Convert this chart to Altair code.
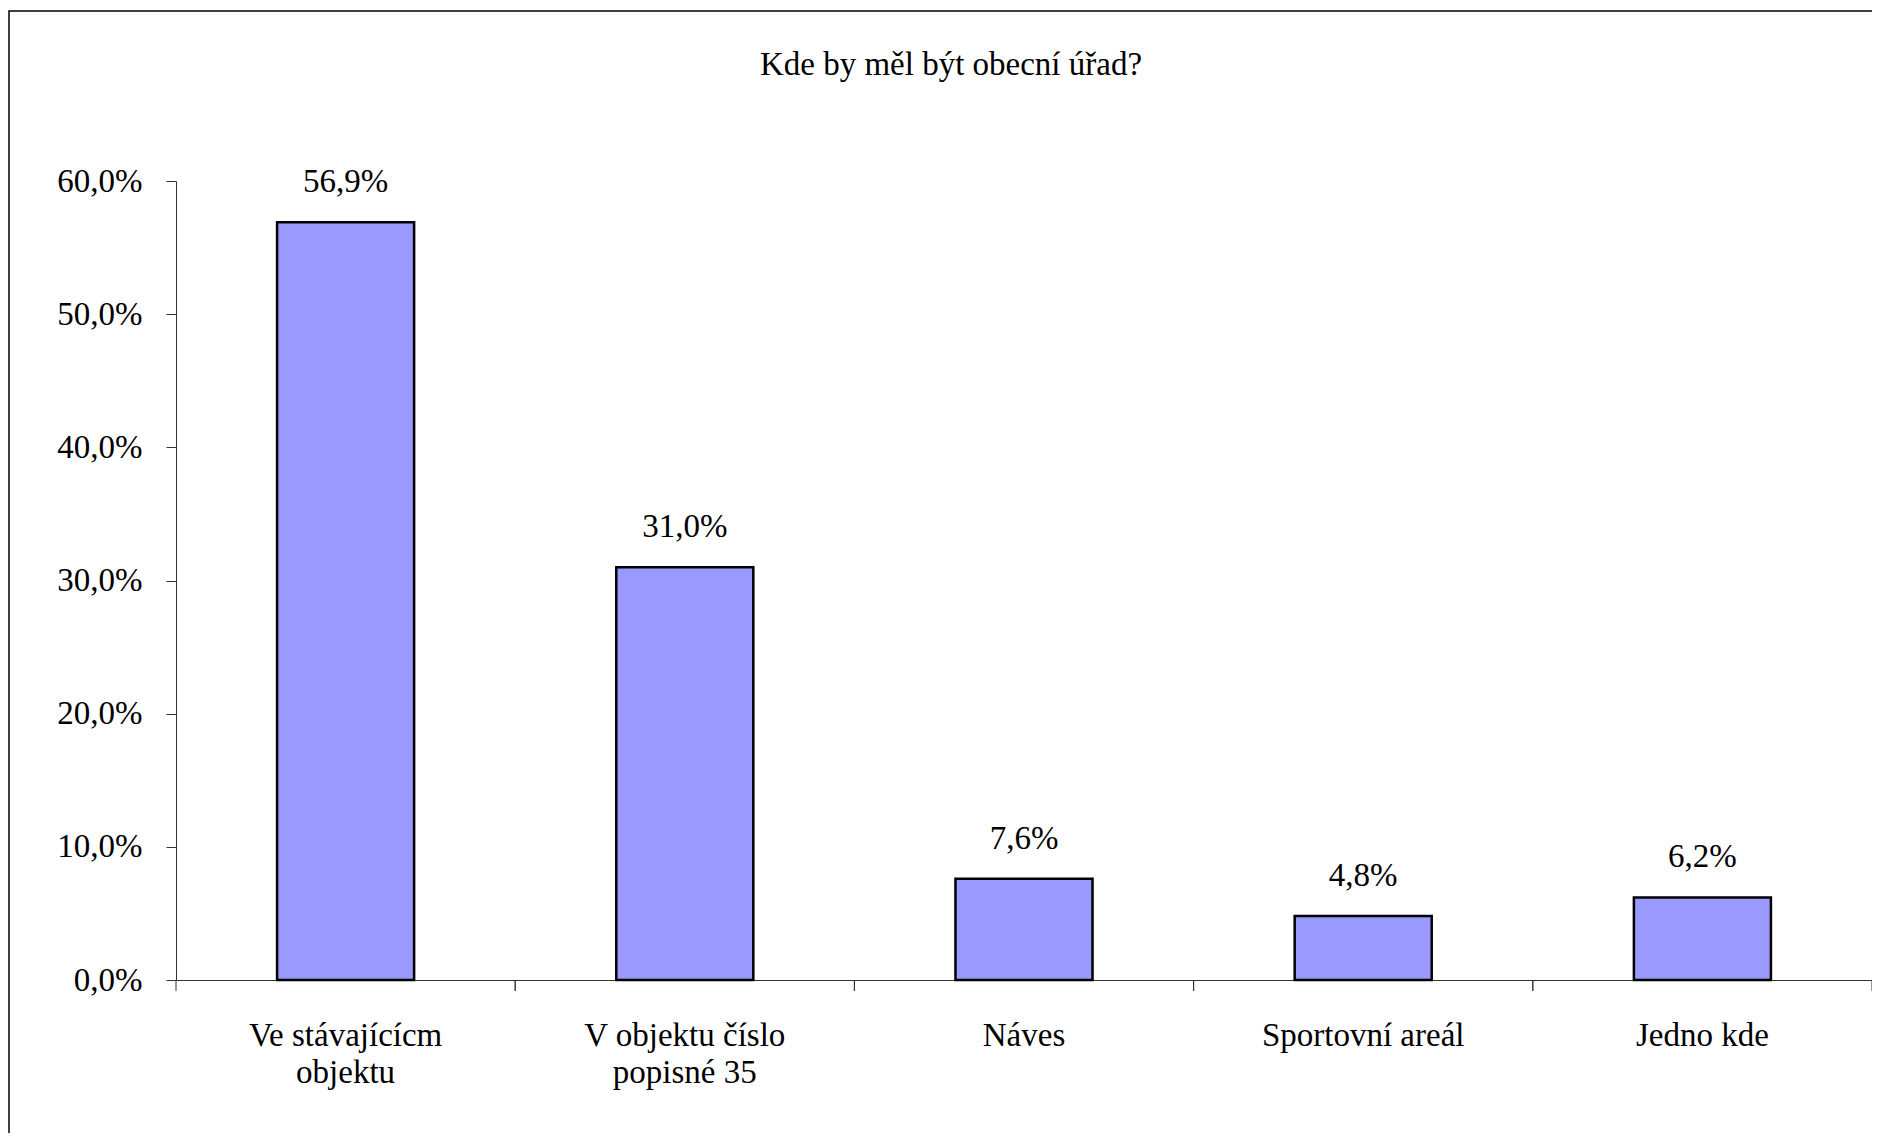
import altair as alt
import pandas as pd

categories = ["Ve stávajícícm\nobjektu", "V objektu číslo\npopisné 35", "Náves", "Sportovní areál", "Jedno kde"]
values = [56.9, 31.0, 7.6, 4.8, 6.2]
y_ticks = [0, 10, 20, 30, 40, 50, 60]
title_text = "Kde by měl být obecní úřad?"

df = pd.DataFrame({"cat": categories, "val": values})

W, H = 1696, 799
FONT = "Liberation Serif"

xscale = alt.Scale(domain=categories, paddingInner=0, paddingOuter=0)
yscale = alt.Scale(domain=[0, 60], nice=False)

base = alt.Chart(df)

bars = base.mark_bar(
    width=alt.RelativeBandSize(0.404), fill="#9999FF", stroke="black", strokeWidth=2.5
).encode(
    x=alt.X("cat:N", scale=xscale, sort=None, title=None,
            axis=alt.Axis(labelAngle=0, ticks=False, tickSize=0, labelPadding=65,
                          labelBaseline="alphabetic", labelLineHeight=37, labelLimit=0,
                          labelExpr="split(datum.value, '\\n')", grid=False,
                          labelFont=FONT, labelFontSize=33, labelColor="black",
                          domainColor="#333", domainWidth=1)),
    y=alt.Y("val:Q", scale=yscale, title=None,
            axis=alt.Axis(values=y_ticks, grid=False, tickSize=10, labelPadding=24,
                          labelExpr="replace(format(datum.value, '.1f'), '.', ',') + '%'",
                          labelFont=FONT, labelFontSize=33, labelColor="black",
                          domainColor="#333", tickColor="#333", domainWidth=1)),
)

labels = base.mark_text(font=FONT, fontSize=33, baseline="alphabetic", dy=-30, color="black").encode(
    x=alt.X("cat:N", scale=xscale, sort=None, title=None),
    y=alt.Y("val:Q", scale=yscale, title=None),
    text=alt.Text("lbl:N"),
).transform_calculate(lbl="replace(format(datum.val, '.1f'), '.', ',') + '%'")

ticks0 = base.mark_rule(color="#333", strokeWidth=1).encode(
    x=alt.X("cat:N", scale=xscale, sort=None, bandPosition=0, title=None),
    y=alt.value(H), y2=alt.value(H + 11),
)
ticks1 = base.mark_rule(color="#333", strokeWidth=1).encode(
    x=alt.X("cat:N", scale=xscale, sort=None, bandPosition=1, title=None),
    y=alt.value(H), y2=alt.value(H + 11),
)

border = alt.Chart(alt.Data(values=[{"a": 1}])).mark_rect(
    fillOpacity=0, stroke="black", strokeWidth=1.5
).encode(
    x=alt.value(-167), x2=alt.value(W + 40), y=alt.value(-170), y2=alt.value(H + 300)
)

title = alt.Chart(alt.Data(values=[{"t": title_text}])).mark_text(
    font=FONT, fontSize=33, baseline="alphabetic", align="center", color="black"
).encode(
    text=alt.Text("t:N"), x=alt.value(W / 2 - 73), y=alt.value(-106)
)

chart = alt.layer(border, bars, labels, ticks0, ticks1, title).properties(
    width=W, height=H,
    background="white",
    autosize=alt.AutoSizeParams(type="none"),
    padding={"left": 168, "top": 173, "right": 0, "bottom": 153},
).configure_view(strokeWidth=0, stroke="transparent").configure_axis(grid=False)

chart.save("out.html", embed_options={"renderer": "svg", "actions": False})
